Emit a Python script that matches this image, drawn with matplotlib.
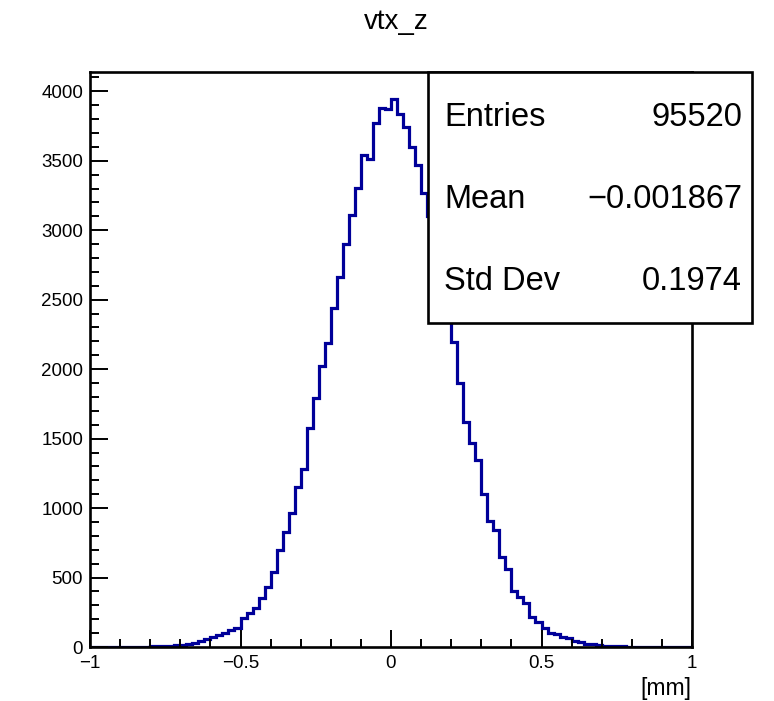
import numpy as np
import matplotlib
matplotlib.use("Agg")
import matplotlib.pyplot as plt
from matplotlib.patches import Rectangle
from matplotlib.ticker import MultipleLocator

plt.rcParams['font.family'] = ['Liberation Sans', 'DejaVu Sans']

# histogram vtx_z : 100 bins from -1 to 1 mm
x_min, x_max, n_bins = -1.0, 1.0, 100
counts = [
    0, 0, 0, 0, 0, 0, 0, 0, 2, 3,
    4, 6, 8, 10, 12, 16, 20, 31, 45, 58,
    70, 86, 103, 120, 135, 206, 247, 278, 350, 429,
    542, 698, 829, 962, 1149, 1278, 1580, 1789, 2024, 2189,
    2439, 2664, 2904, 3113, 3304, 3545, 3516, 3775, 3880, 3870,
    3942, 3834, 3743, 3599, 3468, 3271, 3100, 2870, 2630, 2400,
    2196, 1901, 1621, 1470, 1345, 1098, 910, 845, 650, 559,
    405, 357, 314, 218, 182, 134, 98, 90, 75, 65,
    42, 35, 25, 18, 12, 10, 8, 6, 5, 3,
    3, 2, 2, 1, 1, 1, 0, 0, 0, 0,
]
x_ticks = [-1, -0.5, 0, 0.5, 1]
x_ticklabels = ['\u22121', '\u22120.5', '0', '0.5', '1']
y_ticks = [0, 500, 1000, 1500, 2000, 2500, 3000, 3500, 4000]

title = 'vtx_z'
x_unit = '[mm]'
stat_names = ['Entries', 'Mean', 'Std Dev']
stat_values = ['95520', '\u22120.001867', '0.1974']

W, H = 774, 701
fig = plt.figure(figsize=(W / 100, H / 100), dpi=100)
fig.patch.set_facecolor('white')

# frame in pixels: left 90, right 692, top 72, bottom 647
ax = fig.add_axes([90 / W, 1 - 647 / H, (692 - 90) / W, (647 - 72) / H])

edges = np.linspace(x_min, x_max, n_bins + 1)
ax.stairs(counts, edges, color='#000099', lw=2.3, baseline=0)

ax.set_xlim(x_min, x_max)
ax.set_ylim(0, 1.05 * max(counts))

for s in ax.spines.values():
    s.set_linewidth(1.9)

ax.set_xticks(x_ticks)
ax.set_xticklabels(x_ticklabels)
ax.set_yticks(y_ticks)
ax.xaxis.set_minor_locator(MultipleLocator(0.1))
ax.yaxis.set_minor_locator(MultipleLocator(100))
ax.tick_params(which='both', direction='in', top=False, right=False,
               width=1.4, labelsize=13.5)
ax.tick_params(axis='x', which='major', length=12, pad=6)
ax.tick_params(axis='x', which='minor', length=6)
ax.tick_params(axis='y', which='major', length=13, pad=5)
ax.tick_params(axis='y', which='minor', length=6.5)

fig.text(396 / W, 1 - 22 / H, title, ha='center', va='center', fontsize=20)
fig.text(691 / W, 1 - 688 / H, x_unit, ha='right', va='center', fontsize=16.5)

# stats box
bx0, bx1, by0, by1 = 428, 752, 72, 323
box = Rectangle((bx0 / W, 1 - by1 / H), (bx1 - bx0) / W, (by1 - by0) / H,
                transform=fig.transFigure, facecolor='white',
                edgecolor='black', lw=1.9, zorder=5)
fig.patches.append(box)
row_y = [117, 199, 282]
for name, val, yy in zip(stat_names, stat_values, row_y):
    fig.text(444 / W, 1 - yy / H, name, ha='left', va='center',
             fontsize=23.5, zorder=6)
    fig.text(742 / W, 1 - yy / H, val, ha='right', va='center',
             fontsize=23.5, zorder=6)

fig.savefig('out.png', dpi=100)
